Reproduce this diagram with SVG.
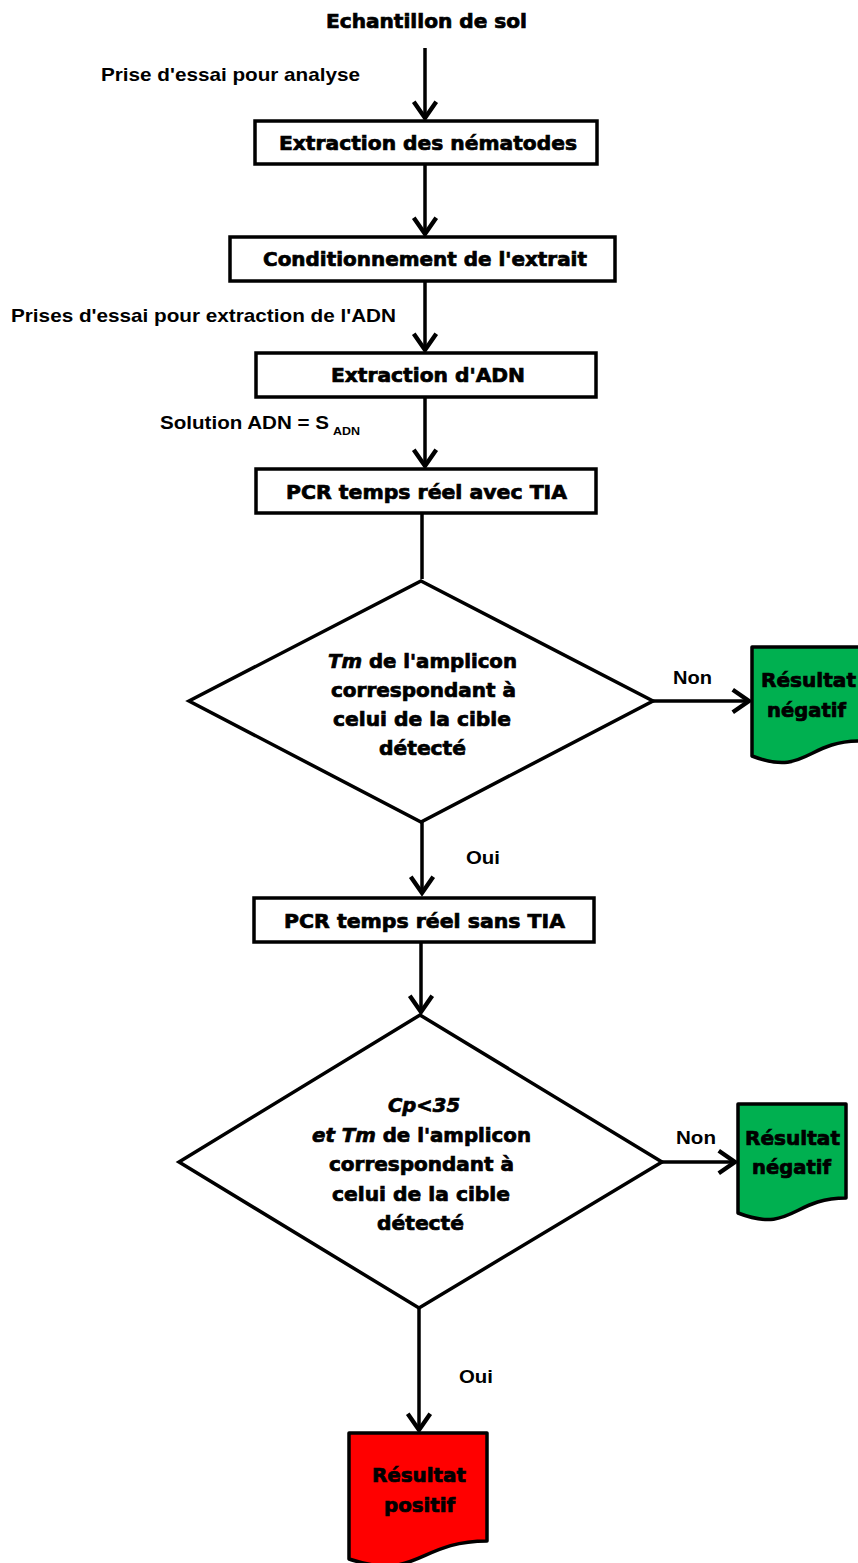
<svg xmlns="http://www.w3.org/2000/svg" width="858" height="1563" viewBox="0 0 858 1563">
<style>
.box{fill:#fff;stroke:#000;stroke-width:3.5}
.dia{fill:#fff;stroke:#000;stroke-width:3.5;stroke-linejoin:miter}
.doc{stroke:#000;stroke-width:3.5;stroke-linejoin:round}
.t{font-family:"DejaVu Sans","Liberation Sans",sans-serif;font-weight:bold;font-size:19px;fill:#000;stroke:#000;stroke-width:0.7;text-anchor:middle}
.l{font-family:"Liberation Sans","Arial",sans-serif;font-weight:bold;font-size:19px;fill:#000}
.c{fill:none;stroke:#000;stroke-width:3.5}
</style>
<defs>
<marker id="ah" markerUnits="userSpaceOnUse" markerWidth="30" markerHeight="30" refX="0" refY="0" viewBox="-16 -12 20 24" orient="auto" overflow="visible">
<path d="M-13,-9 L0,0 L-13,9" fill="none" stroke="#000" stroke-width="3.5" stroke-linejoin="miter"/>
</marker>
</defs>

<g id="connectors">
<line class="c" x1="425" y1="48" x2="425" y2="118" marker-end="url(#ah)"/>
<line class="c" x1="425" y1="164" x2="425" y2="234" marker-end="url(#ah)"/>
<line class="c" x1="425" y1="281" x2="425" y2="350" marker-end="url(#ah)"/>
<line class="c" x1="425" y1="397" x2="425" y2="466" marker-end="url(#ah)"/>
<line class="c" x1="422" y1="513" x2="422" y2="579"/>
<line class="c" x1="422" y1="822" x2="422" y2="893" marker-end="url(#ah)"/>
<line class="c" x1="421" y1="942" x2="421" y2="1012" marker-end="url(#ah)"/>
<line class="c" x1="419" y1="1308" x2="419" y2="1430" marker-end="url(#ah)"/>
<line class="c" x1="653" y1="701" x2="749" y2="701" marker-end="url(#ah)"/>
<line class="c" x1="662" y1="1162" x2="735" y2="1162" marker-end="url(#ah)"/>
<text class="l" x="101" y="81" textLength="259" lengthAdjust="spacingAndGlyphs">Prise d'essai pour analyse</text>
<text class="l" x="11" y="322" textLength="385" lengthAdjust="spacingAndGlyphs">Prises d'essai pour extraction de l'ADN</text>
<text class="l" x="160" y="429"><tspan textLength="169" lengthAdjust="spacingAndGlyphs">Solution ADN = S</tspan><tspan x="333" y="435" font-size="11" textLength="27" lengthAdjust="spacingAndGlyphs">ADN</tspan></text>
<text class="l" x="673" y="684" textLength="39" lengthAdjust="spacingAndGlyphs">Non</text>
<text class="l" x="676" y="1144" textLength="40" lengthAdjust="spacingAndGlyphs">Non</text>
<text class="l" x="466" y="864" textLength="34" lengthAdjust="spacingAndGlyphs">Oui</text>
<text class="l" x="459" y="1383" textLength="34" lengthAdjust="spacingAndGlyphs">Oui</text>
</g>

<g id="start">
<text class="t" x="426.5" y="28" textLength="201" lengthAdjust="spacingAndGlyphs">Echantillon de sol</text>
</g>

<g id="n1">
<rect class="box" x="255" y="121" width="342" height="43"/>
<text class="t" x="428" y="150" textLength="298" lengthAdjust="spacingAndGlyphs">Extraction des nématodes</text>
</g>

<g id="n2">
<rect class="box" x="230" y="237" width="385" height="44"/>
<text class="t" x="425" y="266" textLength="324" lengthAdjust="spacingAndGlyphs">Conditionnement de l'extrait</text>
</g>

<g id="n3">
<rect class="box" x="256" y="353" width="340" height="44"/>
<text class="t" x="428" y="382" textLength="194" lengthAdjust="spacingAndGlyphs">Extraction d'ADN</text>
</g>

<g id="n4">
<rect class="box" x="256" y="469" width="340" height="44"/>
<text class="t" x="426.5" y="499" textLength="281" lengthAdjust="spacingAndGlyphs">PCR temps réel avec TIA</text>
</g>

<g id="d1">
<polygon class="dia" points="421,581 653,701 421,822 189,701"/>
<text class="t" x="422.5" y="668" textLength="189" lengthAdjust="spacingAndGlyphs"><tspan font-style="italic">Tm</tspan> de l'amplicon</text>
<text class="t" x="423.5" y="697" textLength="185" lengthAdjust="spacingAndGlyphs">correspondant à</text>
<text class="t" x="422" y="726" textLength="178" lengthAdjust="spacingAndGlyphs">celui de la cible</text>
<text class="t" x="422.5" y="755" textLength="87" lengthAdjust="spacingAndGlyphs">détecté</text>
</g>

<g id="neg1">
<path class="doc" fill="#00B050" d="M752,647 L860,647 L860,741 C806,741 806,777 752,756 Z"/>
<text class="t" x="808.5" y="687" textLength="95" lengthAdjust="spacingAndGlyphs">Résultat</text>
<text class="t" x="806.5" y="717" textLength="79" lengthAdjust="spacingAndGlyphs">négatif</text>
</g>

<g id="n5">
<rect class="box" x="254" y="898" width="340" height="44"/>
<text class="t" x="424.5" y="928" textLength="281" lengthAdjust="spacingAndGlyphs">PCR temps réel sans TIA</text>
</g>

<g id="d2">
<polygon class="dia" points="420,1015 662,1162 419,1308 179,1162"/>
<text class="t" x="424" y="1112" textLength="72" lengthAdjust="spacingAndGlyphs" font-style="italic">Cp&lt;35</text>
<text class="t" x="421.5" y="1142" textLength="219" lengthAdjust="spacingAndGlyphs"><tspan font-style="italic">et Tm</tspan> de l'amplicon</text>
<text class="t" x="421.5" y="1171" textLength="185" lengthAdjust="spacingAndGlyphs">correspondant à</text>
<text class="t" x="421" y="1201" textLength="178" lengthAdjust="spacingAndGlyphs">celui de la cible</text>
<text class="t" x="420.5" y="1230" textLength="87" lengthAdjust="spacingAndGlyphs">détecté</text>
</g>

<g id="neg2">
<path class="doc" fill="#00B050" d="M738,1104 L846,1104 L846,1198 C792,1198 792,1234 738,1213 Z"/>
<text class="t" x="792.5" y="1145" textLength="95" lengthAdjust="spacingAndGlyphs">Résultat</text>
<text class="t" x="791.5" y="1174" textLength="79" lengthAdjust="spacingAndGlyphs">négatif</text>
</g>

<g id="pos">
<path class="doc" fill="#FF0000" d="M349,1433 L487,1433 L487,1541 C418,1541 418,1582 349,1559 Z"/>
<text class="t" x="419" y="1482" textLength="94" lengthAdjust="spacingAndGlyphs">Résultat</text>
<text class="t" x="419.5" y="1512" textLength="71" lengthAdjust="spacingAndGlyphs">positif</text>
</g>
</svg>
